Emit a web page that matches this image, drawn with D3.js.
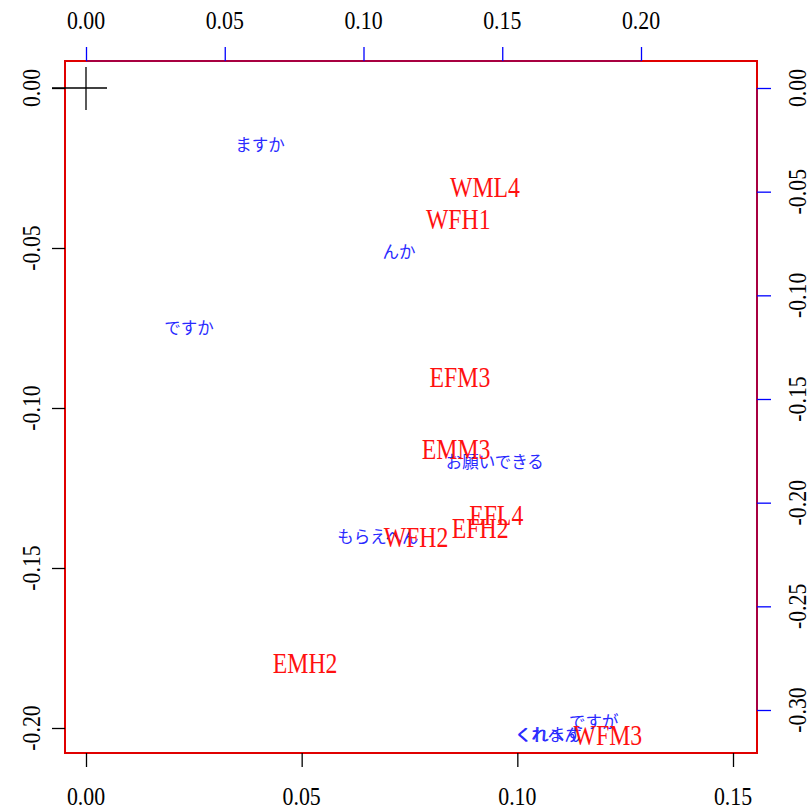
<!DOCTYPE html>
<html><head><meta charset="utf-8">
<script src="https://cdn.jsdelivr.net/npm/d3@7"></script>
<style>body{margin:0;background:#fff}</style>
</head><body>
<script>
// Row points (primary axes: bottom / left)
const rowLabels = ["WML4","WFH1","EFM3","EMM3","EFL4","EFH2","WFH2","EMH2","WFM3"];
const rowX = [0.0925,0.0863,0.0867,0.0858,0.0951,0.0914,0.0765,0.0508,0.1210];
const rowY = [-0.0309,-0.0409,-0.0903,-0.1128,-0.1334,-0.1375,-0.1403,-0.1797,-0.2022];
// Column points (secondary axes: top / right)
const colLabels = ["ますか","んか","ですか","お願いできる","もらえへん","ですが","くれへん","くれます"];
const colX = [0.0627,0.1128,0.0371,0.1473,0.1052,0.1830,0.1664,0.1668];
const colY = [-0.0271,-0.0787,-0.1155,-0.1797,-0.2159,-0.3053,-0.3116,-0.3116];
// Tick values
const bottomTicks = [0.00,0.05,0.10,0.15];
const leftTicks = [0.00,-0.05,-0.10,-0.15,-0.20];
const topTicks = [0.00,0.05,0.10,0.15,0.20];
const rightTicks = [0.00,-0.05,-0.10,-0.15,-0.20,-0.25,-0.30];

const W=811,H=810;
const box={l:65,r:757,t:61,b:753};
const svg=d3.select("body").append("svg").attr("width",W).attr("height",H);

const xB=d3.scaleLinear().domain([0,0.15]).range([86,733]);
const yL=d3.scaleLinear().domain([0,-0.2]).range([88,728]);
const xT=d3.scaleLinear().domain([0,0.2]).range([86,641]);
const yR=d3.scaleLinear().domain([0,-0.3]).range([88,710]);

const fmt=d=>d.toFixed(2).replace(/^-0\.00$/,"0.00");
const serif="'Liberation Serif','DejaVu Serif',serif";
const tickFS=26, tickSX=0.84;

// box
svg.append("rect").attr("x",box.l).attr("y",box.t).attr("width",box.r-box.l).attr("height",box.b-box.t)
  .attr("fill","none").attr("stroke","#e00000").attr("stroke-width",2);

// bottom axis
const gB=svg.append("g").attr("transform",`translate(0,${box.b})`).call(d3.axisBottom(xB).tickValues(bottomTicks).tickSize(14).tickFormat(""));
gB.select(".domain").remove();
gB.selectAll(".tick line").attr("stroke","#000").attr("stroke-width",1.3);
bottomTicks.forEach(t=>{
  svg.append("text").attr("transform",`translate(${xB(t)},796) scale(${tickSX},1)`)
    .attr("text-anchor","middle").attr("dominant-baseline","central")
    .style("font-family",serif).style("font-size",tickFS+"px").attr("fill","#000").text(fmt(t));
});
// left axis
const gL=svg.append("g").attr("transform",`translate(${box.l},0)`).call(d3.axisLeft(yL).tickValues(leftTicks).tickSize(13).tickFormat(""));
gL.select(".domain").remove();
gL.selectAll(".tick line").attr("stroke","#000").attr("stroke-width",1.3);
leftTicks.forEach(t=>{
  svg.append("text").attr("transform",`translate(31,${yL(t)}) rotate(-90) scale(${tickSX},1)`)
    .attr("text-anchor","middle").attr("dominant-baseline","central")
    .style("font-family",serif).style("font-size",tickFS+"px").attr("fill","#000").text(fmt(t));
});
// top axis
const gT=svg.append("g").attr("transform",`translate(0,${box.t})`).call(d3.axisTop(xT).tickValues(topTicks).tickSize(14).tickFormat(""));
gT.select(".domain").attr("stroke","#0000ff").attr("stroke-opacity",0.5).attr("d",`M${xT(0)},0H${xT(0.2)}`);
gT.selectAll(".tick line").attr("stroke","#0000ff").attr("stroke-width",1.3);
topTicks.forEach(t=>{
  svg.append("text").attr("transform",`translate(${xT(t)},20) scale(${tickSX},1)`)
    .attr("text-anchor","middle").attr("dominant-baseline","central")
    .style("font-family",serif).style("font-size",tickFS+"px").attr("fill","#000").text(fmt(t));
});
// right axis
const gR=svg.append("g").attr("transform",`translate(${box.r},0)`).call(d3.axisRight(yR).tickValues(rightTicks).tickSize(14).tickFormat(""));
gR.select(".domain").attr("stroke","#0000ff").attr("stroke-opacity",0.5).attr("d",`M0,${yR(0)}V${yR(-0.3)}`);
gR.selectAll(".tick line").attr("stroke","#0000ff").attr("stroke-width",1.3);
rightTicks.forEach(t=>{
  svg.append("text").attr("transform",`translate(797,${yR(t)}) rotate(-90) scale(${tickSX},1)`)
    .attr("text-anchor","middle").attr("dominant-baseline","central")
    .style("font-family",serif).style("font-size",tickFS+"px").attr("fill","#000").text(fmt(t));
});

// origin cross
const ox=xB(0), oy=yL(0);
svg.append("line").attr("x1",ox-34).attr("x2",ox+21).attr("y1",oy).attr("y2",oy).attr("stroke","#000").attr("stroke-width",1.3);
svg.append("line").attr("x1",ox).attr("x2",ox).attr("y1",oy-21).attr("y2",oy+22).attr("stroke","#000").attr("stroke-width",1.3);

// column labels (blue)
svg.append("g").selectAll("text").data(colLabels).join("text")
  .attr("x",(d,i)=>xT(colX[i])).attr("y",(d,i)=>yR(colY[i]))
  .attr("text-anchor","middle").attr("dominant-baseline","central")
  .style("font-family","'Noto Sans CJK JP',sans-serif").style("font-size","16.5px")
  .attr("fill","#2a2aff").text(d=>d);

// row labels (red)
svg.append("g").selectAll("text").data(rowLabels).join("text")
  .attr("transform",(d,i)=>`translate(${xB(rowX[i])},${yL(rowY[i])}) scale(0.82,1)`)
  .attr("text-anchor","middle").attr("dominant-baseline","central")
  .style("font-family",serif).style("font-size","29px")
  .attr("fill","#ff1010").text(d=>d);
</script>
</body></html>
